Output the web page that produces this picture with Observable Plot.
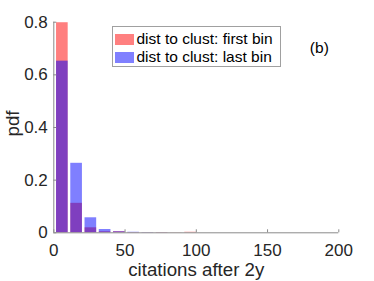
<!DOCTYPE html>
<html><head><meta charset="utf-8">
<script src="https://cdn.jsdelivr.net/npm/d3@7"></script>
<script src="https://cdn.jsdelivr.net/npm/@observablehq/plot@0.6"></script>
<style>
html,body{margin:0;padding:0;background:#fff;}
#wrap{position:relative;width:374px;height:281px;font-family:"Liberation Sans",Arial,sans-serif;}
#legend{position:absolute;left:111.5px;top:26px;width:167px;height:39px;border:1px solid #a0a0a0;background:#fff;font-size:15.5px;color:#000;}
.row{position:absolute;left:2px;height:12px;display:flex;align-items:center;white-space:nowrap;}
.sw{width:19px;height:11px;margin-right:3px;}
</style>
</head><body>
<div id="wrap"><div id="chart"></div>
<div id="legend"></div></div>
<script>
const binLeft = [1, 11, 21, 31, 41, 51, 61, 71, 81, 91];
const binWidth = 10;
const firstBin = [0.798, 0.112, 0.019, 0.004, 0.004, 0.001, 0.0005, 0.001, 0.0005, 0.002];
const lastBin  = [0.652, 0.264, 0.057, 0.0125, 0.004, 0.002, 0.001, 0.0005, 0, 0];
const seriesNames = ["dist to clust: first bin", "dist to clust: last bin"];
const seriesColors = ["red", "blue"];
const xTicks = [0, 50, 100, 150, 200];
const yTicks = [0, 0.2, 0.4, 0.6, 0.8];
const xLabel = "citations after 2y";
const yLabel = "pdf";
const panelTag = "(b)";

const W = 374, H = 281, mL = 53.3, mR = 35.7, mT = 21.7, mB = 48.7;
const pw = W - mL - mR, ph = H - mT - mB;
const tickLen = 3;

const rows = s => binLeft.map((x, i) => ({x1: x, x2: x + binWidth, y: s[i]}));
const barOpts = {x1: "x1", x2: "x2", y: "y", insetLeft: 1.3, insetRight: 1.3, fillOpacity: 0.5};

const chart = Plot.plot({
  width: W, height: H,
  marginLeft: mL, marginRight: mR, marginTop: mT, marginBottom: mB,
  style: {fontFamily: '"Liberation Sans", Arial, sans-serif', color: "#262626", background: "#fff"},
  x: {domain: [0, 200]},
  y: {domain: [0, 0.8]},
  marks: [
    Plot.rectY(rows(firstBin), {...barOpts, fill: seriesColors[0]}),
    Plot.rectY(rows(lastBin), {...barOpts, fill: seriesColors[1]}),
    Plot.ruleY([0], {stroke: "#8a8a8a"}),
    Plot.ruleX([0], {stroke: "#8a8a8a"}),
    Plot.ruleX(xTicks, {stroke: "#8a8a8a", insetTop: ph - tickLen}),
    Plot.ruleY(yTicks, {stroke: "#8a8a8a", insetRight: pw - tickLen}),
    Plot.axisX(xTicks, {tickSize: 0, tickPadding: 11, fontSize: 17, label: xLabel, labelAnchor: "center", labelArrow: "none", labelOffset: 43}),
    Plot.axisY(yTicks, {tickSize: 0, tickPadding: 6, fontSize: 17, tickFormat: d => d === 0 ? "0" : d3.format(".1f")(d), label: yLabel, labelAnchor: "center", labelArrow: "none", labelOffset: 48}),
    Plot.text([panelTag], {frameAnchor: "top-right", dx: -10, dy: 20, fontSize: 15.5, fill: "#000", textAnchor: "end"})
  ]
});
chart.querySelectorAll("[aria-label='x-axis label'] text, [aria-label='y-axis label'] text").forEach(t => t.setAttribute("font-size", "18.7"));
chart.querySelectorAll("[aria-label='y-axis label'] text").forEach(t => t.setAttribute("dx", "4"));
document.getElementById("chart").appendChild(chart);

const legend = document.getElementById("legend");
const swatchFill = ["rgb(255,128,128)", "rgb(128,128,255)"];
seriesNames.forEach((name, i) => {
  const r = document.createElement("div");
  r.className = "row";
  r.style.top = (6 + i * 18) + "px";
  r.innerHTML = `<div class="sw" style="background:${swatchFill[i]}"></div><span>${name}</span>`;
  legend.appendChild(r);
});
</script>
</body></html>
